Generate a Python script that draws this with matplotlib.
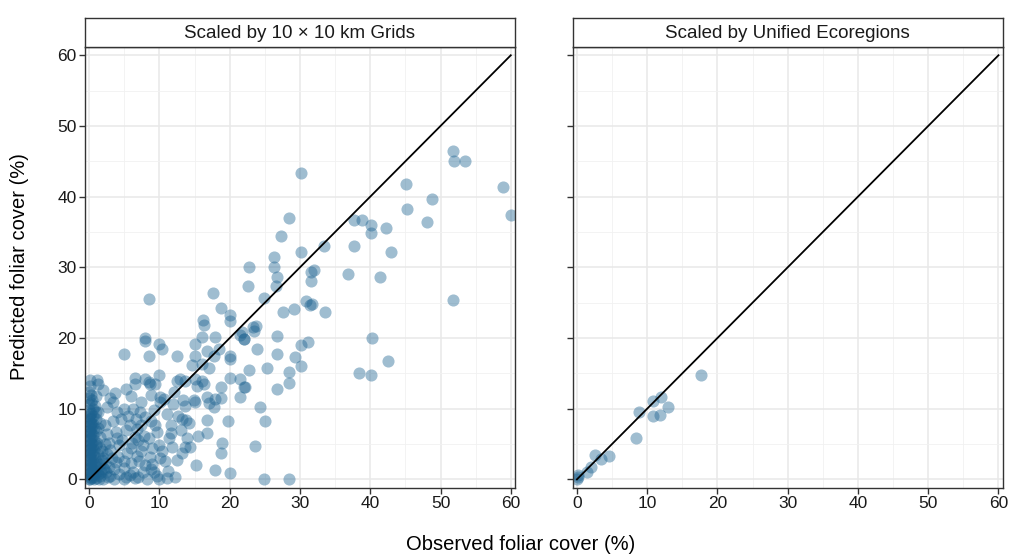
import matplotlib.pyplot as plt
import numpy as np

plt.rcParams['font.family'] = ['Liberation Sans', 'DejaVu Sans']

# Scaled by 10 x 10 km grids: (observed, predicted)
grid_pts = [
    (30.1, 43.4), (51.8, 46.5), (51.9, 45.1), (53.5, 45.1), (58.9, 41.4), (60.0, 37.4),
    (45.1, 41.8), (48.8, 39.6), (45.2, 38.3), (48.1, 36.4), (28.5, 37.0), (27.3, 34.5),
    (30.1, 32.1), (33.4, 33.0), (26.3, 31.4), (26.3, 30.0), (26.7, 28.6), (26.6, 27.3),
    (22.8, 30.1), (22.6, 27.4), (24.9, 25.6), (37.7, 36.7), (38.8, 36.7), (40.1, 36.0),
    (40.1, 34.8), (42.3, 35.5), (37.7, 33.0), (42.9, 32.2), (36.8, 29.0), (41.4, 28.7),
    (32.0, 29.6), (31.6, 29.3), (31.6, 28.1), (30.8, 25.3), (31.4, 24.7), (31.7, 24.8),
    (33.6, 23.7), (29.1, 24.1), (27.6, 23.7), (51.8, 25.4), (23.8, 21.7), (23.4, 21.0),
    (22.0, 19.9), (26.7, 20.3), (30.1, 19.0), (31.2, 19.5), (23.9, 18.4), (26.7, 17.8),
    (29.3, 17.3), (30.2, 16.1), (25.3, 15.8), (22.7, 15.5), (28.4, 15.2), (28.4, 13.6),
    (26.7, 12.8), (22.2, 13.1), (21.5, 11.7), (40.2, 20.0), (42.5, 16.8), (38.4, 15.1),
    (40.1, 14.7), (24.3, 10.2), (25.0, 8.2), (23.6, 4.7), (24.9, 0.1), (28.5, 0.1),
    (8.5, 25.5), (17.6, 26.3), (18.8, 24.2), (20.1, 23.2), (20.0, 22.4), (16.2, 22.6),
    (16.3, 21.9), (23.3, 21.5), (21.7, 20.8), (22.0, 19.8), (21.5, 20.4), (8.0, 20.0),
    (8.0, 19.6), (10.0, 19.2), (10.3, 18.5), (17.9, 20.2), (16.0, 20.2), (15.0, 19.2),
    (16.7, 18.2), (15.0, 17.4), (18.5, 18.5), (17.7, 17.5), (5.0, 17.8), (8.5, 17.4),
    (12.5, 17.4), (20.1, 17.4), (20.1, 17.0), (14.6, 16.2), (16.1, 16.3), (17.0, 15.8),
    (10.0, 14.8), (6.5, 14.3), (8.0, 14.2), (6.5, 13.5), (8.5, 13.8), (8.7, 13.5),
    (9.4, 13.5), (0.05, 14.0), (1.1, 14.0), (1.2, 13.5), (12.5, 13.9), (12.9, 14.2),
    (13.7, 13.9), (15.1, 14.2), (16.1, 13.9), (16.4, 13.5), (15.3, 13.2), (18.7, 13.1),
    (20.1, 14.4), (21.4, 14.2), (22.1, 13.1), (8.8, 12.0), (1.0, 11.8), (3.7, 12.2),
    (3.4, 10.9), (7.4, 11.0), (4.9, 9.9), (6.2, 9.9), (10.1, 11.7), (10.1, 10.9),
    (10.7, 11.4), (11.9, 10.7), (13.3, 11.3), (13.7, 10.4), (14.9, 11.3), (15.1, 10.9),
    (16.8, 11.7), (17.0, 10.8), (17.7, 10.3), (17.9, 11.4), (18.7, 11.5), (19.8, 8.3),
    (16.8, 8.4), (16.7, 6.5), (13.8, 8.4), (13.2, 8.6), (14.2, 8.0), (11.7, 7.7),
    (11.7, 6.5), (13.0, 7.0), (13.9, 5.9), (13.7, 4.6), (14.4, 4.6), (13.2, 3.7),
    (18.9, 5.2), (18.8, 3.7), (17.9, 1.3), (20.1, 0.9), (10.0, 0.0), (10.8, 2.6),
    (8.2, 0.0), (10.0, 4.9), (9.7, 6.7), (9.4, 7.7), (8.5, 5.8), (7.6, 4.9),
    (7.3, 4.0), (8.7, 3.2), (8.8, 1.5), (7.6, 1.1), (6.5, 0.2), (4.9, 0.1),
    (3.5, 0.0), (3.5, 1.4), (4.9, 1.6), (6.0, 2.3), (5.4, 3.7), (4.1, 3.2),
    (2.3, 2.3), (2.1, 1.4), (1.6, 0.5), (6.5, 6.0), (5.3, 7.0), (3.8, 6.7),
    (5.8, 7.7), (6.8, 7.1), (7.4, 7.7), (2.3, 7.7), (1.6, 6.0), (2.8, 5.1),
    (4.2, 4.8), (1.8, 4.0), (8.8, 8.2), (8.0, 8.8), (6.7, 8.6), (4.5, 8.6),
    (3.4, 8.2), (1.0, 8.6), (0.8, 10.4), (1.3, 9.6), (10.4, 4.0), (10.1, 3.0),
    (11.8, 4.6), (12.2, 0.4), (11.2, 1.2), (15.2, 2.0), (12.5, 2.8), (9.2, 9.8),
    (11.0, 9.2), (12.0, 12.3), (6.0, 11.8), (5.2, 12.8), (2.6, 10.2), (7.2, 9.6),
    (9.6, 0.5), (2.7, 0.3), (5.8, 0.6), (7.1, 2.6), (3.0, 4.2), (2.0, 3.0),
    (4.6, 5.6), (5.9, 4.5), (2.5, 6.4), (1.5, 2.2), (1.2, 1.2), (0.9, 4.8),
    (3.9, 9.6), (7.8, 6.2), (9.0, 2.2), (11.3, 5.9), (12.6, 9.0), (15.5, 6.1),
    (6.3, 1.0), (7.0, 0.4), (5.3, 0.3), (4.3, 0.8), (3.8, 2.4), (8.0, 2.0),
    (6.8, 3.3), (5.0, 2.6), (9.2, 1.0), (11.0, 0.2), (6.1, 5.2), (4.0, 5.8),
    (7.0, 5.5), (9.0, 4.5), (3.2, 3.0), (5.5, 9.0), (3.0, 11.5), (2.0, 12.6),
    # dense column at zero observed cover
    (0.0, 0.0), (0.0, 0.6), (0.0, 1.3), (0.0, 2.0), (0.0, 2.7), (0.0, 3.4),
    (0.0, 4.1), (0.0, 4.8), (0.0, 5.5), (0.0, 6.2), (0.0, 6.9), (0.0, 7.6),
    (0.0, 8.3), (0.0, 9.0), (0.0, 9.8), (0.0, 10.6), (0.0, 11.5), (0.0, 12.4),
    (0.3, 0.2), (0.3, 1.0), (0.3, 1.8), (0.3, 2.5), (0.3, 3.1), (0.3, 3.8),
    (0.3, 4.5), (0.3, 5.2), (0.3, 5.9), (0.3, 6.6), (0.3, 7.3), (0.3, 8.0),
    (0.3, 8.7), (0.3, 9.4), (0.3, 12.0), (0.5, 0.4), (0.5, 1.5), (0.5, 2.4),
    (0.5, 3.6), (0.5, 4.9), (0.5, 6.3), (0.5, 7.8), (0.6, 10.0), (0.7, 0.0),
    (0.8, 0.9), (0.8, 2.0), (0.8, 3.1), (0.9, 6.8), (1.0, 0.2), (1.4, 0.0),
    (1.1, 5.2), (1.3, 3.6), (1.7, 1.0), (2.0, 0.0), (2.4, 1.0), (3.0, 0.5),
    (0.15, 0.3), (0.15, 1.6), (0.15, 2.9), (0.15, 4.3), (0.15, 5.7), (0.15, 7.0),
    (0.15, 8.5), (0.15, 13.2), (0.4, 0.7), (0.6, 1.1), (1.0, 1.8), (1.9, 1.6),
    (0.1, 0.1), (0.1, 0.9), (0.2, 2.2), (0.1, 3.7), (0.2, 5.0), (0.1, 6.5),
    (0.2, 7.9), (0.1, 9.3), (0.2, 10.8), (0.4, 11.2), (0.7, 4.2), (0.7, 5.6),
    (0.7, 7.2), (0.6, 8.9), (1.0, 2.6), (1.2, 0.7), (1.5, 4.5), (1.8, 2.8),
    (1.2, 7.3), (2.2, 5.0), (2.6, 3.6), (2.8, 1.8), (1.5, 8.0), (0.9, 9.5),
]
grid_obs = [p[0] for p in grid_pts]
grid_pred = [p[1] for p in grid_pts]

# Scaled by unified ecoregions
eco_obs = [17.6, 10.8, 12.0, 13.0, 10.8, 11.8, 8.8, 8.4, 2.6, 3.4, 4.5, 2.0, 1.4, 0.1, 0.0, 0.2]
eco_pred = [14.8, 11.1, 11.7, 10.3, 8.9, 9.1, 9.5, 5.9, 3.4, 2.9, 3.3, 1.8, 1.0, 0.6, 0.1, 0.3]

panels = [
    ("Scaled by 10 \u00d7 10 km Grids", grid_obs, grid_pred),
    ("Scaled by Unified Ecoregions", eco_obs, eco_pred),
]

W, H = 1011, 559
fig = plt.figure(figsize=(W / 100, H / 100), dpi=100)

lefts = [85, 572.7]
pw = 430
top, bot = 47.5, 487.5
strip_top = 18

pt_color = '#1c6290'
for i, (title, xs, ys) in enumerate(panels):
    ax = fig.add_axes([lefts[i] / W, 1 - bot / H, pw / W, (bot - top) / H])
    ax.set_xlim(-0.6, 60.6)
    ax.set_ylim(-1.15, 61.1)
    ax.set_xticks(np.arange(0, 61, 10))
    ax.set_yticks(np.arange(0, 61, 10))
    ax.set_xticks(np.arange(5, 60, 10), minor=True)
    ax.set_yticks(np.arange(5, 60, 10), minor=True)
    ax.grid(True, which='major', color='#e8e8e8', lw=1.1, zorder=0)
    ax.grid(True, which='minor', color='#f1f1f1', lw=0.6, zorder=0)
    ax.set_axisbelow(True)
    ax.tick_params(which='minor', length=0)
    ax.tick_params(which='major', length=4, width=1, color='#333333',
                   labelsize=12.5, labelcolor='#1a1a1a', pad=2)
    for s in ax.spines.values():
        s.set_color('#333333')
        s.set_linewidth(1.0)
    ax.scatter(xs, ys, s=76, color=pt_color, alpha=0.42, linewidths=0, zorder=2)
    ax.plot([0, 60], [0, 60], color='black', lw=1.3, zorder=3)
    if i == 1:
        ax.set_yticklabels([])

    sax = fig.add_axes([lefts[i] / W, 1 - top / H, pw / W, (top - strip_top) / H])
    sax.set_xticks([])
    sax.set_yticks([])
    for s in sax.spines.values():
        s.set_color('#333333')
        s.set_linewidth(1.0)
    sax.text(0.5, 0.48, title, ha='center', va='center', fontsize=13.5,
             color='#1a1a1a', transform=sax.transAxes)

fig.text(521 / W, 1 - 545 / H, "Observed foliar cover (%)", ha='center', va='center',
         fontsize=14.5, color='black')
fig.text(20 / W, 1 - 267 / H, "Predicted foliar cover (%)", ha='center', va='center',
         rotation=90, fontsize=14.5, color='black')

fig.savefig("out.png", dpi=100)
